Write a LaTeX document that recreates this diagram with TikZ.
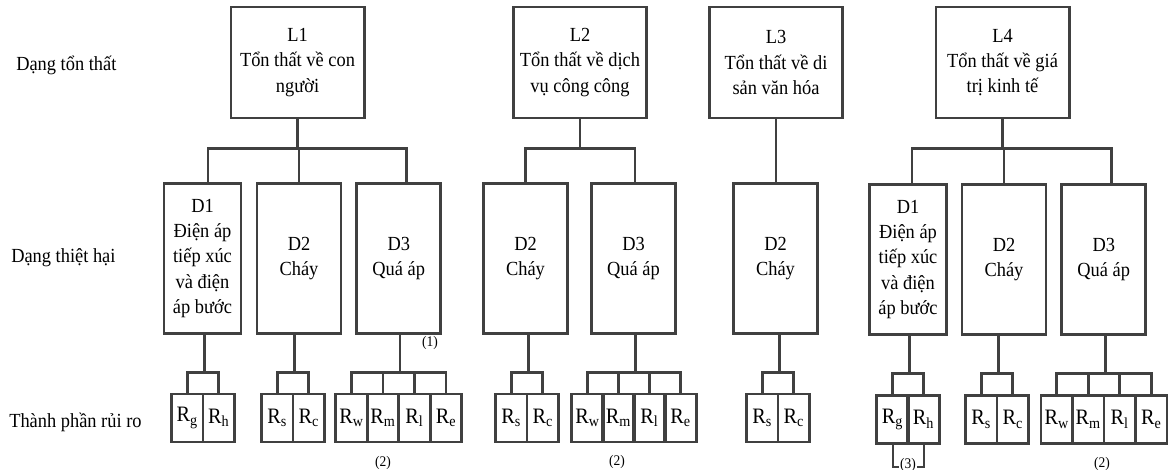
\documentclass[tikz,border=0pt]{standalone}
\usepackage{fontspec}
\setmainfont{Liberation Serif}[FakeStretch=0.92]
\definecolor{linegray}{HTML}{404040}
\begin{document}
\begin{tikzpicture}[x=0.75pt,y=-0.75pt,
  every node/.style={inner sep=0pt, align=center, font=\fontsize{15}{19}\selectfont},
  lossbox/.style={draw=linegray, line width=2pt, minimum width=100pt, minimum height=83.25pt},
  dmgbox/.style={draw=linegray, line width=2pt, minimum width=63pt, minimum height=112pt},
  dmgnarrow/.style={dmgbox, minimum width=57.75pt},
  riskbox/.style={draw=linegray, line width=2pt, minimum width=23.6pt, minimum height=36pt,
    font=\fontsize{16.5}{19}\selectfont},
  rowlabel/.style={anchor=west},
  note/.style={font=\fontsize{11}{13}\selectfont},
  link/.style={draw=linegray, line width=2pt}]
\useasboundingbox (0,0) rectangle (1169,470);

% row captions
\node[rowlabel] (capL) at (16,65) {Dạng tổn thất};
\node[rowlabel] (capD) at (11,258) {Dạng thiệt hại};
\node[rowlabel] (capR) at (9,422) {Thành phần rủi ro};

% loss types
\node[lossbox] (L1) at (297.5,62.5) {L1\\Tổn thất về con\\người};
\node[lossbox] (L2) at (580,62.5) {L2\\Tổn thất về dịch\\vụ công công};
\node[lossbox] (L3) at (776,62.5) {L3\\Tổn thất về di\\sản văn hóa};
\node[lossbox] (L4) at (1002.5,62.5) {L4\\Tổn thất về giá\\trị kinh tế};

% damage types
\node[dmgnarrow] (A1) at (202.5,258.5) {D1\\Điện áp\\tiếp xúc\\và điện\\áp bước};
\node[dmgbox] (A2) at (299,258.5) {D2\\Cháy};
\node[dmgbox] (A3) at (398.75,258.5) {D3\\Quá áp};
\node[dmgbox] (B2) at (525.5,258.5) {D2\\Cháy};
\node[dmgbox] (B3) at (633.5,258.5) {D3\\Quá áp};
\node[dmgbox] (C2) at (775.5,258.5) {D2\\Cháy};
\node[dmgnarrow] (E1) at (908,259.5) {D1\\Điện áp\\tiếp xúc\\và điện\\áp bước};
\node[dmgbox] (E2) at (1004,259.5) {D2\\Cháy};
\node[dmgbox] (E3) at (1103.75,259.5) {D3\\Quá áp};

% risk components
\node[riskbox] (A1g) at (187.25,418) {R\textsubscript{g}};
\node[riskbox] (A1h) at (218.75,418) {R\textsubscript{h}};
\node[riskbox] (A2s) at (277.25,418) {R\textsubscript{s}};
\node[riskbox] (A2c) at (308.75,418) {R\textsubscript{c}};
\node[riskbox] (A3w) at (351.5,418) {R\textsubscript{w}};
\node[riskbox] (A3m) at (383,418) {R\textsubscript{m}};
\node[riskbox] (A3l) at (414.5,418) {R\textsubscript{l}};
\node[riskbox] (A3e) at (446,418) {R\textsubscript{e}};

\node[riskbox] (B2s) at (511.25,418) {R\textsubscript{s}};
\node[riskbox] (B2c) at (542.75,418) {R\textsubscript{c}};
\node[riskbox] (B3w) at (587.5,418) {R\textsubscript{w}};
\node[riskbox] (B3m) at (618.5,418) {R\textsubscript{m}};
\node[riskbox] (B3l) at (649.5,418) {R\textsubscript{l}};
\node[riskbox] (B3e) at (680.5,418) {R\textsubscript{e}};

\node[riskbox] (C2s) at (762.25,418) {R\textsubscript{s}};
\node[riskbox] (C2c) at (793.75,418) {R\textsubscript{c}};

\node[riskbox] (E1g) at (892.5,419.5) {R\textsubscript{g}};
\node[riskbox] (E1h) at (923.5,419.5) {R\textsubscript{h}};
\node[riskbox] (E2s) at (981.25,419.5) {R\textsubscript{s}};
\node[riskbox] (E2c) at (1012.75,419.5) {R\textsubscript{c}};
\node[riskbox] (E3w) at (1056.75,419.5) {R\textsubscript{w}};
\node[riskbox] (E3m) at (1088.25,419.5) {R\textsubscript{m}};
\node[riskbox] (E3l) at (1119.75,419.5) {R\textsubscript{l}};
\node[riskbox] (E3e) at (1151.25,419.5) {R\textsubscript{e}};

% loss type -> damage types
\draw[link] (L1.south) -- ++(0,29) -| ([xshift=4.1pt]A1.north);
\draw[link] (L1.south) -- ++(0,29) -| (A2.north);
\draw[link] (L1.south) -- ++(0,29) -| ([xshift=6pt]A3.north);
\draw[link] (L2.south) -- ++(0,29) -| (B2.north);
\draw[link] (L2.south) -- ++(0,29) -| ([xshift=1pt]B3.north);
\draw[link] (L3.south) -- (C2.north -| L3.south);
\draw[link] (L4.south) -- ++(0,29) -| ([xshift=3pt]E1.north);
\draw[link] (L4.south) -- ++(0,29) -| (E2.north);
\draw[link] (L4.south) -- ++(0,29) -| ([xshift=6pt]E3.north);

% damage types -> risk components
\foreach \d/\a/\b in {A1/A1g/A1h, A2/A2s/A2c, B2/B2s/B2c, C2/C2s/C2c, E1/E1g/E1h, E2/E2s/E2c} {
  \draw[link] (\d.south -| \a.east) -- ++(0,38) -| (\a.north);
  \draw[link] (\d.south -| \a.east) -- ++(0,38) -| (\b.north);
}
\foreach \d/\p in {A3/A3, B3/B3, E3/E3} {
  \draw[link] (\d.south -| \p m.east) -- ++(0,38) -| (\p w.north);
  \draw[link] (\d.south -| \p m.east) -- ++(0,38) -| (\p m.north);
  \draw[link] (\d.south -| \p m.east) -- ++(0,38) -| (\p l.north);
  \draw[link] (\d.south -| \p m.east) -- ++(0,38) -| (\p e.north);
}

% bracket joining the two components of D1 in L4
\draw[link, line width=1.5pt] (E1g.south) -- ++(0,22) -| (E1h.south);

% notes
\node[note] (n1) at (430,343) {(1)};
\node[note] (n2a) at (383,463) {(2)};
\node[note] (n2b) at (617,462) {(2)};
\node[note] (n2c) at (1102,464) {(2)};
\node[note, fill=white, inner xsep=0.5pt] (n3) at (908,465) {(3)};
\end{tikzpicture}
\end{document}
